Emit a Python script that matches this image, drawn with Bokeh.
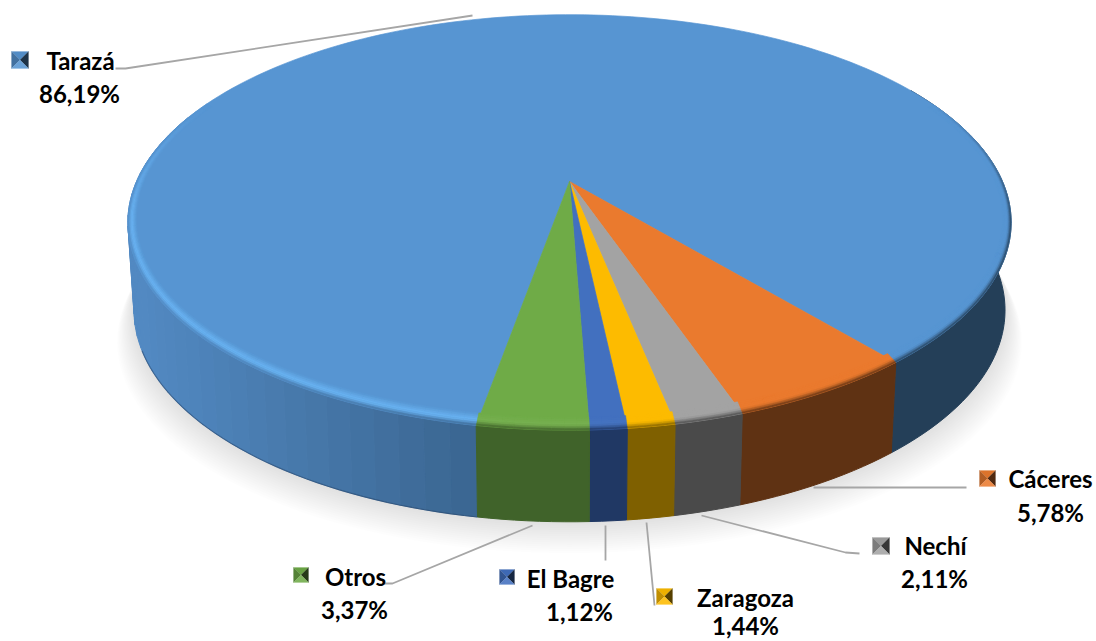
import math
from bokeh.plotting import figure
from bokeh.models import ColumnDataSource, Range1d
from bokeh.core.properties import value
from bokeh.embed import file_html
from bokeh.resources import INLINE

# ---- data ----
categories = ["Tarazá", "Cáceres", "Nechí", "Zaragoza", "El Bagre", "Otros"]
shares = [86.19, 5.78, 2.11, 1.44, 1.12, 3.37]
share_labels = ["86,19%", "5,78%", "2,11%", "1,44%", "1,12%", "3,37%"]

# ---- styles ----
face_colors = ["#5795d2", "#ea7a2e", "#a3a3a3", "#fdbb00", "#4270bf", "#6fab47"]
side_colors = ["#243f58", "#5f3213", "#4a4a4a", "#7f6000", "#203864", "#40632a"]
rim_glow = [1.0, 0.0, 0.0, 0.0, 0.15, 0.45]
side_left, side_mid = "#5289c2", "#3a6590"
first_angle = 190.0

# ---- layout (picture pixels) ----
W, H = 1096, 641
APEX_X = 569.0
TOP = dict(c=181.0, b=164.0, a=433.0)
BOT = dict(c=268.0, b=150.6, a=427.0)
PERSP = -0.197

label_x = [80, 1050, 935, 745, 570, 355]
label_y = [60, 478, 545, 597, 578, 576]
pct_x = [79, 1050, 934, 745, 579, 354]
pct_y = [93, 512, 578, 625, 611, 609]
marker_x = [11, 979, 872, 656, 499, 293]
marker_y = [51, 470, 537, 588, 569, 567]
marker_size = [17, 16, 17, 16, 15, 15]
leaders = [
    ([115, 125, 472], [68, 68, 15]),
    ([813, 966], [487, 487]),
    ([701, 845, 859], [515, 552, 553]),
    ([646, 654], [522, 605]),
    ([605, 605], [525, 560]),
    ([532, 392, 383], [525, 583, 583]),
]


def rgb(c):
    c = c.lstrip("#")
    return [int(c[i:i + 2], 16) for i in (0, 2, 4)]


def mix(c1, c2, t):
    t = max(0.0, min(1.0, t))
    a, b = rgb(c1), rgb(c2)
    return "#%02x%02x%02x" % tuple(round(a[i] + (b[i] - a[i]) * t) for i in range(3))


def project(angle, g, sx=1.0, sy=1.0):
    """Clockwise angle from the back of the pie to a picture point."""
    r = math.radians(angle)
    X, Y = math.sin(r) * sx, -math.cos(r) * sy
    d = 1 + PERSP * Y
    return APEX_X + g["a"] * X / d, (g["c"] + g["b"] * Y) / d


p = figure(width=W, height=H, x_range=Range1d(0, W), y_range=Range1d(H, 0),
           output_backend="svg", toolbar_location=None, min_border=0,
           outline_line_color=None, background_fill_color="white")
p.xaxis.visible = False
p.yaxis.visible = False
p.grid.visible = False


def draw(polys, seam=0.7):
    src = ColumnDataSource(dict(xs=[q[0] for q in polys], ys=[q[1] for q in polys],
                                c=[q[2] for q in polys]))
    p.patches("xs", "ys", source=src, fill_color="c", line_color="c", line_width=seam)


# slice boundaries from the values
total = sum(shares)
bounds = [first_angle]
for v in shares:
    bounds.append(bounds[-1] + v / total * 360.0)


def steps(a0, a1, size=1.5):
    n = max(2, int(math.ceil((a1 - a0) / size)))
    return [a0 + (a1 - a0) * i / n for i in range(n + 1)]


def wall_span(a0, a1, col):
    ang = steps(a0, a1)
    t = [project(a, TOP) for a in ang]
    b = [project(a, BOT) for a in reversed(ang)]
    return ([q[0] for q in t + b], [q[1] for q in t + b], col)


# soft shadow
ring = [i * 2.0 for i in range(181)]
for k in range(16):
    pts = [project(a, BOT, 1 + k * 0.0026, 1) for a in ring]
    src = ColumnDataSource(dict(x=[q[0] for q in pts], y=[q[1] + k * 2.1 for q in pts]))
    p.patch("x", "y", source=src, fill_color="#000000", fill_alpha=0.009, line_color=None)

# side wall: the big slice shades along its left part, the rest is flat
wall = []
ang = steps(bounds[0], 290.0, 3.0)
for a0, a1 in zip(ang[:-1], ang[1:]):
    xm = project((a0 + a1) / 2, TOP)[0]
    wall.append(wall_span(a0, a1, mix(side_left, side_mid, (xm - 140) / 340)))
wall.append(wall_span(420.0, bounds[1], side_colors[0]))
for i in range(1, len(categories)):
    wall.append(wall_span(bounds[i], bounds[i + 1], side_colors[i]))
draw(wall, seam=1.0)

# dark lower edge of the left wall
edge = [project(a, BOT) for a in steps(bounds[0], 248.0)]
p.line([q[0] for q in edge], [q[1] for q in edge], line_color="#27466b", line_alpha=0.55, line_width=1.2)

# top face
faces = []
for i, cat in enumerate(categories):
    pts = [project(a, TOP) for a in steps(bounds[i], bounds[i + 1])]
    faces.append(([APEX_X] + [q[0] for q in pts], [TOP["c"]] + [q[1] for q in pts], face_colors[i]))
draw(faces)

# bevel between the face and the wall
BANDS = 7
bevel = []
for i, cat in enumerate(categories):
    ang = steps(bounds[i], bounds[i + 1])
    for a0, a1 in zip(ang[:-1], ang[1:]):
        am = (a0 + a1) / 2
        off = abs((am % 360) - 180)
        if off > 115:
            continue
        strength = min(1.0, (115 - off) / 35)
        left = math.sin(math.radians(am)) < 0
        glow = rim_glow[i]
        if i == 0 and not left:
            glow = 0.0
        hi = mix(face_colors[i], mix(face_colors[i], "#ffffff", 0.12) if i else "#69b3f2", glow)
        side = side_colors[i]
        if i == 0 and left:
            side = mix(side_left, side_mid, (project(am, TOP)[0] - 140) / 340)
        for k in range(BANDS):
            u0, u1 = k / BANDS, (k + 1) / BANDS
            t = (u0 + u1) / 2
            if t < 0.55:
                c = mix(face_colors[i], hi, t / 0.55)
            else:
                c = mix(hi, side, ((t - 0.55) / 0.45) ** 1.5)
            c = mix(face_colors[i], c, strength)
            sx0, sy0 = 1 - 0.018 * (1 - u0), 1 - 0.042 * (1 - u0)
            sx1, sy1 = 1 - 0.018 * (1 - u1), 1 - 0.042 * (1 - u1)
            q = [project(a0, TOP, sx0, sy0), project(a1, TOP, sx0, sy0),
                 project(a1, TOP, sx1, sy1), project(a0, TOP, sx1, sy1)]
            bevel.append(([e[0] for e in q], [e[1] for e in q], c))
draw(bevel, seam=0.4)

# leader lines
p.multi_line([l[0] for l in leaders], [l[1] for l in leaders], line_color="#a6a6a6", line_width=1.8)

# legend keys with a pyramid bevel
keys = []
for i, cat in enumerate(categories):
    x0, y0, s = marker_x[i], marker_y[i], marker_size[i]
    x1, y1 = x0 + s, y0 + s
    cx, cy = x0 + s / 2, y0 + s / 2
    f = face_colors[i]
    keys.append(([x0, x1, cx], [y0, y0, cy], mix(f, "#000000", 0.06)))
    keys.append(([x0, x0, cx], [y0, y1, cy], mix(f, "#000000", 0.24)))
    keys.append(([x1, x1, cx], [y0, y1, cy], mix(f, "#000000", 0.66)))
    keys.append(([x0, x1, cx], [y1, y1, cy], mix(f, "#ffffff", 0.12)))
draw(keys, seam=0.2)

# labels
font = value("Lato")
p.text(label_x, label_y, text=categories, text_font=font, text_font_style="bold",
       text_font_size="24px", text_align="center", text_baseline="middle", text_color="#000000")
p.text(pct_x, pct_y, text=share_labels, text_font=font, text_font_style="bold",
       text_font_size="24px", text_align="center", text_baseline="middle", text_color="#000000")

open("out.html", "w").write(file_html(p, INLINE))
